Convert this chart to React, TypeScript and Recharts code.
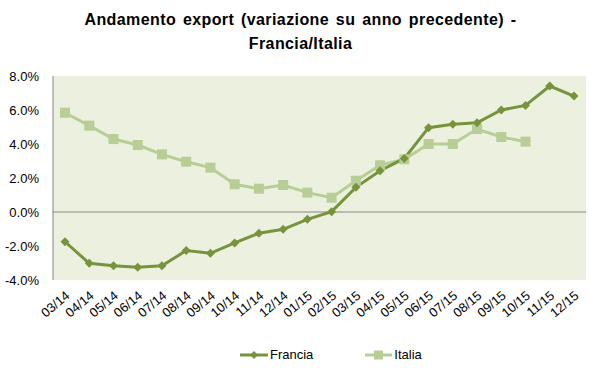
import React from "react";
import {
  LineChart,
  Line,
  XAxis,
  YAxis,
  CartesianGrid,
  ReferenceLine,
  Legend,
} from "recharts";

// mesi (asse X)
const months = [
  "03/14", "04/14", "05/14", "06/14", "07/14", "08/14", "09/14", "10/14",
  "11/14", "12/14", "01/15", "02/15", "03/15", "04/15", "05/15", "06/15",
  "07/15", "08/15", "09/15", "10/15", "11/15", "12/15",
];

// variazione % su anno precedente
const francia = [
  -1.75, -3.02, -3.16, -3.25, -3.16, -2.27, -2.43, -1.82, -1.25, -1.02,
  -0.43, 0.02, 1.45, 2.43, 3.15, 4.96, 5.16, 5.25, 6.0, 6.27, 7.41, 6.82,
];
const italia = [
  5.84, 5.08, 4.29, 3.94, 3.39, 2.96, 2.61, 1.63, 1.37, 1.59,
  1.14, 0.84, 1.84, 2.75, 3.1, 4.0, 4.0, 4.88, 4.41, 4.14, null, null,
];

const yTicks = [-4, -2, 0, 2, 4, 6, 8];

const FRANCIA_COLOR = "#77933C";
const ITALIA_COLOR = "#B9CD96";
const FONT = "'Liberation Sans', Arial, sans-serif";

const data = months.map((m, i) => ({
  month: m,
  Francia: francia[i],
  Italia: italia[i],
}));

const Diamond = (props: any) => {
  const { cx, cy, fill } = props;
  if (cx == null || cy == null) return null;
  const r = 4.5;
  return (
    <polygon
      points={`${cx},${cy - r} ${cx + r},${cy} ${cx},${cy + r} ${cx - r},${cy}`}
      fill={fill}
    />
  );
};

const Square = (props: any) => {
  const { cx, cy, fill } = props;
  if (cx == null || cy == null) return null;
  const s = 10;
  return <rect x={cx - s / 2} y={cy - s / 2} width={s} height={s} fill={fill} />;
};

// etichette ruotate dell'asse X
const RotatedTick = (props: any) => {
  const { x, y, payload } = props;
  return (
    <g transform={`translate(${x + 3},${y + 6})`}>
      <text
        transform="rotate(-40)"
        textAnchor="end"
        dy={4}
        fontSize={13}
        fontFamily={FONT}
        fill="#000"
      >
        {payload.value}
      </text>
    </g>
  );
};

const LegendContent = () => (
  <div
    style={{
      display: "flex",
      justifyContent: "flex-start",
      paddingLeft: 240,
      fontFamily: FONT,
      fontSize: 13,
      lineHeight: "15px",
      color: "#000",
    }}
  >
    <div style={{ display: "flex", alignItems: "center", marginRight: 52 }}>
      <svg width={28} height={12} style={{ marginRight: 2 }}>
        <line x1={0} y1={6} x2={28} y2={6} stroke={FRANCIA_COLOR} strokeWidth={3} />
        <polygon points="14,2 18,6 14,10 10,6" fill={FRANCIA_COLOR} />
      </svg>
      <span>Francia</span>
    </div>
    <div style={{ display: "flex", alignItems: "center" }}>
      <svg width={27} height={12} style={{ marginRight: 2 }}>
        <line x1={0} y1={6} x2={27} y2={6} stroke={ITALIA_COLOR} strokeWidth={3} />
        <rect x={9} y={1.5} width={9} height={9} fill={ITALIA_COLOR} />
      </svg>
      <span>Italia</span>
    </div>
  </div>
);

export default function App() {
  return (
    <div
      style={{
        position: "absolute",
        left: 0,
        top: 0,
        width: 601,
        height: 379,
        background: "#fff",
        fontFamily: FONT,
      }}
    >
      <div
        style={{
          position: "absolute",
          top: 8,
          left: 0,
          width: 601,
          textAlign: "center",
          fontWeight: "bold",
          fontSize: 16,
          lineHeight: "24px",
          letterSpacing: "0.4px",
          wordSpacing: "2px",
          color: "#000",
        }}
      >
        Andamento export (variazione su anno precedente) -
        <br />
        Francia/Italia
      </div>
      <LineChart
        width={601}
        height={379}
        data={data}
        margin={{ top: 76, right: 15, left: 0, bottom: 17 }}
      >
        <CartesianGrid
          fill="#EBF1DE"
          horizontal={false}
          vertical={false}
          stroke="none"
        />
        <XAxis
          dataKey="month"
          interval={0}
          padding={{ left: 12, right: 12 }}
          axisLine={false}
          tickLine={false}
          height={67}
          tick={<RotatedTick />}
        />
        <YAxis
          width={53}
          domain={[-4, 8]}
          ticks={yTicks}
          tickFormatter={(v: number) => `${v.toFixed(1)}%`}
          axisLine={{ stroke: "#868686" }}
          tickLine={false}
          tick={{ fontSize: 13, fontFamily: FONT, fill: "#000" }}
          tickMargin={8}
        />
        <ReferenceLine y={0} stroke="#868686" strokeWidth={1} />
        <Legend verticalAlign="bottom" content={<LegendContent />} />
        <Line
          dataKey="Italia"
          stroke={ITALIA_COLOR}
          strokeWidth={3}
          dot={<Square fill={ITALIA_COLOR} />}
          activeDot={false}
          isAnimationActive={false}
        />
        <Line
          dataKey="Francia"
          stroke={FRANCIA_COLOR}
          strokeWidth={3}
          dot={<Diamond fill={FRANCIA_COLOR} />}
          activeDot={false}
          isAnimationActive={false}
        />
      </LineChart>
    </div>
  );
}
